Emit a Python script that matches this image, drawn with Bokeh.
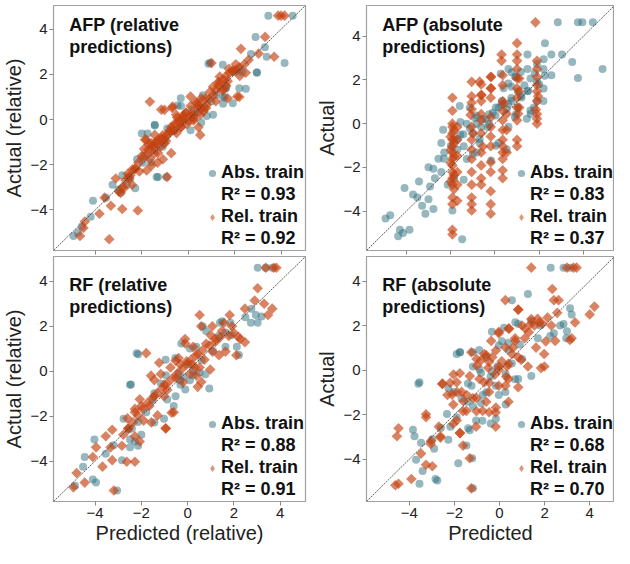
from bokeh.plotting import figure
from bokeh.layouts import gridplot
from bokeh.models import Range1d, FixedTicker, Label, Legend, LegendItem, Slope
from bokeh.embed import file_html
from bokeh.resources import INLINE

# ---------------- data ----------------
ticks = [-4, -2, 0, 2, 4]
series_names = ["Abs. train", "Rel. train"]

# AFP (relative predictions)
tl_abs_pred = [3.45, 4.5, 2.9, 3.38, 4.15, 2.96, 0.87, 2.2, 1.57, 1.92, 1.5, 0.8, 0.52, -0.46, -1.44, -1.75, -2.0, -1.02, 0.1, -2.2, -1.3, -2.84, -2.49, -3.26, -3.54, -4.1, -4.2, -4.58, -4.94, -4.75, -2.28, -2.63, 0.24, -0.32, 1.64, 2.48, 0.63, 2.2, 2.7, 1.2, 0.4, -0.6, -1.1, -1.9, -3.0, -0.2, 1.0, 2.0, -1.6, 0.7, 3.3, -0.9,
               0.94, 1.49, 2.95, 1.49, 1.07, 0.56, -1.44, -1.95, -1.44, -1.36, -0.94, -2.57, -2.9, -0.31, 0.15, 2.32, 1.61]
tl_abs_act = [4.6, 4.6, 3.66, 2.78, 2.5, 2.07, 2.47, 1.39, 0.98, 0.72, 0.7, 0.16, 0.51, 0.62, -0.23, -0.62, -0.62, -0.91, -0.48, -1.76, -2.54, -2.47, -2.61, -2.89, -3.46, -3.6, -4.31, -4.74, -5.16, -5.0, -3.04, -2.89, 0.09, 0.94, 1.43, 1.36, 1.08, 2.2, 2.9, 1.1, 0.3, -0.5, -1.2, -1.6, -3.1, -0.1, 0.8, 2.1, -1.9, 0.5, 3.2, -0.4,
              2.51, 2.43, 2.09, 1.02, 0.21, -0.13, -0.26, -1.91, -1.32, -2.55, -2.55, -2.55, -3.23, 0.6, 0.43, 2.09, 1.36]
tl_rel_pred = [3.87, 4.15, 4.0, 3.31, 2.27, 3.03, 3.7, 1.0, 2.6, 1.78, 2.06, 2.48, 1.29, 1.64, 2.2, 0.31, 0.8, -1.65, -1.16, -0.67, -0.21, -0.53, -0.32, -0.74, -1.16, -1.58, -1.72, -1.3, -2.0, -1.09, -1.58, -2.56, -3.12, -2.42, -2.77, -2.91, -3.6, -3.33, -2.84, -2.17, -3.82, -4.45, -4.51, -4.66, -3.4, -0.91, -1.79, -0.25, 0.24, 0.03, 0.66, 1.08, 1.5, -0.74, -0.39, 0.24, 0.57, 0.52, 1.36, 1.92, 2.22, 0.1, -0.9, -1.4, -1.9, -0.5, 0.9, 1.2, -1.2, -2.3, -1.45, 0.4, 1.7, -0.1, -1.8, -2.6,
               -1.02, -0.69, -0.48, -0.1, 0.1, 0.36, 0.56, 0.94, 1.07, 1.36, 1.61, 1.9, 2.2, 2.4, 1.49, 1.7, 2.11, 1.19, 0.77, 0.52, 0.23, -0.06, -0.31, -0.61, -0.9, -1.15, -1.36, -1.57, -1.74, -1.95, -2.15, -2.28, -2.49, -2.7, -2.82, -2.99, -1.44, -1.02, -0.73, -1.65, -1.32, -1.86, -0.52, 0.44, 0.52, 0.1,
               -1.3, -1.1, -0.8, -0.6, -0.35, -1.5, -1.7, -0.95, -0.2, 0.15, 0.45, 0.75, 1.3, 1.55, 1.75, 2.05, -2.1, -2.4]
tl_rel_act = [4.6, 4.6, 4.6, 3.66, 3.13, 2.92, 2.78, 2.5, 2.64, 2.07, 2.2, 2.07, 1.65, 1.5, 1.0, 0.79, 0.65, 0.79, 0.44, 0.58, 0.09, -0.2, -0.34, -0.48, -0.84, -1.05, -1.33, -1.48, -1.62, -1.76, -2.04, -2.61, -2.61, -2.89, -3.04, -3.25, -3.46, -3.82, -3.96, -4.03, -4.17, -4.52, -4.8, -5.16, -5.3, -2.54, -2.26, 0.0, 0.22, -0.06, 0.36, 1.08, 1.36, -0.34, -0.13, 0.03, 0.47, 0.75, 1.9, 2.18, 1.93, 0.11, -0.7, -1.0, -1.3, -0.6, 0.9, 1.3, -1.2, -2.2, -1.5, 0.5, 1.7, 0.3, -0.9, -2.4,
              0.43, 0.51, 0.09, 0.3, 0.6, 0.72, 0.94, 1.23, 1.45, 1.66, 1.91, 2.13, 2.3, 2.43, 1.28, 0.94, 1.02, 0.81, 0.51, 0.21, -0.04, -0.21, -0.34, -0.47, -0.64, -0.85, -1.06, -1.19, -1.49, -1.7, -1.91, -2.17, -2.47, -2.68, -2.98, -3.19, -0.68, -1.06, -1.49, -1.74, -1.91, -0.89, 0.21, -0.34, -0.68, 1.02,
              -0.9, -0.7, -0.5, -0.2, 0.0, -1.2, -1.1, -0.95, 0.2, 0.25, 0.6, 0.95, 1.5, 1.75, 2.25, 2.45, -2.3, -2.2]

# AFP (absolute predictions)
tr_abs_pred = [2.84, 3.75, 3.95, 4.42, 2.26, 2.55, 3.03, 3.49, 4.86, 3.75, 2.55, 2.19, 1.9, 1.61, 1.33, 1.04, 0.75, 0.39, 0.75, 0.17, 0.03, -0.26, -0.62, -0.98, -1.41, -1.7, -1.59, -1.56, -1.27, -0.9, -0.84, 0.75, 0.96, 1.61, 2.19, 1.44, 0.17, 0.53, -3.0, -2.78, -2.42, -2.71, -2.93, -2.13, -1.84, -1.41, -3.43, -4.08, -3.7, -3.5, -3.0, -3.29, -2.78, -3.14, -4.94, -4.73, -4.29, -4.15, -3.86, -4.37, -1.48, -1.92, -1.84, -1.27, -0.69, -0.33, 0.32, 0.53, 1.04, 1.76, 1.2, 0.6, -0.4, 1.5, 2.0, -2.3, -1.0, 0.9, -0.1, 1.8,
               2.2, 1.9, 1.47, 1.17, 0.91, 0.61, 1.47, 1.17, 0.74, 0.3, 0.04, -0.26, -0.56, -0.82, -1.13, -1.43, -1.69, -1.99, -2.29, -2.55, -1.13, -1.56, -0.69, 0.04, 0.61, 0.95, 1.6, 1.9, 2.2, 2.25, 0.61, 0.26, 1.47, -2.34, -2.42, -0.82, -0.17]
tr_abs_act = [4.63, 4.63, 4.63, 4.63, 3.68, 3.16, 3.16, 2.82, 2.5, 2.09, 2.21, 2.5, 1.91, 2.06, 1.76, 1.47, 1.69, 1.62, 1.03, 0.74, 0.37, 0.0, -0.15, -0.44, -1.03, -1.18, 0.81, -0.51, 0.0, 0.26, 0.37, 2.35, 2.13, 0.44, 1.03, 0.22, -0.88, -1.18, -1.99, -2.06, -2.21, -2.5, -2.87, -2.79, -2.5, -2.57, -2.65, -2.94, -3.24, -3.38, -3.46, -3.75, -3.9, -4.12, -4.34, -4.19, -4.85, -5.0, -4.85, -5.15, -5.29, -3.97, -0.74, -1.62, -0.88, -0.15, 1.03, 0.66, 0.74, 0.74, 1.2, 0.9, 0.2, 1.5, 1.8, -1.6, -1.4, 0.3, 0.5, 2.3,
              2.94, 2.72, 2.5, 2.36, 2.14, 1.83, 1.48, 1.26, 1.17, 0.87, 0.74, 0.43, 0.21, 0.0, -0.22, -0.48, -0.7, -1.01, -1.32, -1.6, 0.74, 0.07, -0.7, -1.01, -0.14, 0.43, 0.6, 1.04, 1.61, 2.19, 2.5, 2.28, 3.16, -0.28, -0.89, -1.32, -1.69]
tr_rel_pred = [-1.92, -1.92, -1.92, -1.92, -1.92, -1.92, -1.92, -1.92, -1.92, -1.92, -1.92, -1.92, -1.92, -1.92, -1.92, -1.92, -1.92,
               -1.7, -1.7, -1.7, -1.7, -1.7, -1.7,
               -1.05, -1.05, -1.05, -1.05, -1.05, -1.05, -1.05, -1.05, -1.05, -1.05, -1.05, -1.05, -1.05,
               -0.62, -0.62, -0.62, -0.62, -0.62, -0.62, -0.62, -0.62, -0.62, -0.62,
               -0.19, -0.19, -0.19, -0.19, -0.19, -0.19, -0.19, -0.19, -0.19, -0.19, -0.19, -0.19,
               0.35, 0.35, 0.35, 0.35, 0.35, 0.35, 0.35, 0.35, 0.35, 0.35, 0.35, 0.35,
               0.53, 0.53, 0.53,
               1.0, 1.0, 1.0, 1.0, 1.0, 1.0, 1.0, 1.0, 1.0, 1.0, 1.0,
               1.1, 1.1, 1.1,
               1.83, 1.9, 1.9, 1.9, 1.9, 1.9, 1.9, 1.9, 1.9, 1.9,
               0.3, 0.3,
               -1.85, -2.0, -1.85, -2.0, -1.85, -2.0, -1.85, -2.0, -1.85,
               -0.69, -0.17, -0.17, -0.61, -1.1, -1.0, -0.55, 0.4, 1.05, 1.95, 1.85]
tr_rel_act = [1.18, 0.59, 0.0, -0.15, -0.44, -0.74, -1.03, -1.32, -1.62, -1.91, -2.21, -2.5, -2.79, -3.38, -3.68, -4.85, -5.07,
              -0.15, -0.74, -1.47, -2.21, -2.79, -3.53,
              1.91, 1.25, 0.96, 0.66, -0.15, -0.74, -1.18, -1.62, -2.21, -2.79, -3.38, -3.68, -3.97,
              1.79, 1.32, 1.03, 0.44, 0.15, -0.44, -1.32, -1.91, -2.5, -2.79,
              2.13, 1.62, 1.18, 0.29, -0.15, -0.59, -1.03, -1.76, -2.21, -3.09, -3.68, -4.12,
              2.21, 1.76, 1.03, 0.59, 0.15, -0.29, -0.74, -1.03, -1.32, -1.62, -2.13, -2.5,
              0.44, -0.29, -1.32,
              3.68, 3.16, 2.87, 2.5, 2.06, 1.62, 1.18, 0.74, 0.15, -0.74, -1.03,
              2.06, 1.47, 0.74,
              4.63, 2.87, 2.5, 2.13, 1.76, 1.47, 1.03, 0.44, 0.22, 0.0,
              3.16, 2.87,
              -0.3, -0.6, -0.9, -1.2, -1.5, -1.8, -2.35, -2.65, -3.0,
              1.92, 2.14, 1.61, 1.3, 0.4, -0.45, -1.05, 0.9, 0.45, 1.25, 0.65]

# RF (relative predictions)
bl_abs_pred = [3.03, 3.38, 3.66, 2.76, 3.2, 3.03, 1.85, 1.5, 2.22, 2.13, 0.8, 0.38, -0.95, -0.53, -2.14, -2.45, -0.32, 0.1, 0.94, 0.52, -1.16, -1.44, -0.6, -1.02, -1.79, -2.14, -2.77, -2.56, -2.0, -2.14, -2.49, -2.84, -4.03, -3.54, -4.45, -4.52, -4.1, -3.96, -4.87, -3.05, -0.88, -0.18, 0.24, 1.36, 1.64, 1.64, 0.6, 1.1, -0.4, 2.5, 1.9, -1.5, 0.0, -3.2,
               -2.2, -2.49, 0.65, 1.4, 2.74, 2.95, -0.27, 0.1, 0.23, 0.77, -0.94, -0.31, -0.1, -0.52, -1.44, -2.41, -2.28, -2.49]
bl_abs_act = [4.6, 4.6, 4.6, 2.78, 2.43, 2.15, 2.15, 2.22, 0.72, 1.08, 1.79, 1.08, 0.51, 0.58, 0.75, -0.6, -0.41, -0.41, -0.77, -0.06, -0.55, -0.98, -1.55, -2.12, -1.83, -2.26, -2.12, -2.61, -2.83, -3.32, -3.04, -3.96, -3.04, -3.68, -3.82, -4.25, -4.82, -4.96, -5.1, -5.31, -1.26, -0.27, 0.01, 1.57, 1.72, 1.08, 0.5, 0.9, -0.1, 2.4, 1.6, -1.3, 0.3, -3.3,
              0.8, -0.61, 2.0, 2.15, 2.15, 2.5, 1.23, 1.01, -0.18, -0.14, -0.18, -0.61, -0.82, -1.12, -2.28, -2.55, -3.13, -3.39]
bl_rel_pred = [3.38, 3.73, 3.84, 3.03, 2.9, 2.48, 3.31, 3.66, 3.48, 0.52, 0.59, -0.11, 0.24, 0.8, 1.57, 1.92, 2.27, 2.48, 1.64, -1.79, -1.23, -0.74, -0.39, -0.04, 0.38, 0.59, -1.58, -1.16, -0.88, -1.44, -2.0, -1.65, -2.28, -1.3, -0.6, -0.95, -2.56, -2.28, -3.26, -3.54, -2.84, -3.33, -3.96, -4.1, -3.26, -3.68, -2.63, -2.28, -4.8, -4.45, -4.94, -3.19, 0.1, 0.31, -0.32, 0.73, 1.08, 0.2, -0.5, 1.2, 1.0, 2.0, -1.9, -0.2, 0.45, 1.4, -1.0, -2.6,
               1.82, 1.07, 1.49, 1.78, 1.19, 0.94, 0.65, 0.36, 0.15, -0.06, -0.27, -0.48, -0.69, -0.9, -1.11, -1.32, -1.53, -1.74, -1.95, -2.15, -2.36, -2.57, -2.78, -0.1, -0.52, 0.52, 0.98, 1.36, 2.11, 2.2, -1.44, -1.02, -0.69, 0.44, -2.07, -2.28, -1.57, -0.94, -2.07]
bl_rel_act = [4.6, 4.6, 4.6, 3.69, 3.14, 2.78, 3.0, 2.78, 2.5, 2.5, 2.0, 1.43, 1.08, 1.22, 2.14, 2.0, 1.43, 1.29, 0.87, 0.8, 0.37, 0.16, 0.58, 0.44, -0.2, -0.48, -0.2, -0.13, -0.84, -1.12, -1.55, -1.55, -1.83, -1.97, -1.83, -2.54, -2.54, -2.9, -2.61, -2.9, -3.32, -3.39, -3.39, -3.82, -3.96, -4.25, -4.03, -4.03, -4.53, -4.96, -5.17, -5.31, -0.13, 0.16, 0.3, 0.51, 0.87, 0.3, -0.3, 1.3, 1.6, 1.7, -2.2, -0.5, 0.75, 1.5, -0.6, -2.1,
              2.5, 2.0, 1.78, 1.57, 1.44, 1.14, 0.93, 0.71, 0.5, 0.29, 0.07, -0.14, -0.35, -0.57, -0.78, -0.99, -1.21, -1.42, -1.68, -1.98, -2.28, -2.55, -2.83, 1.23, 0.46, 0.16, 0.07, 0.71, 0.71, 1.53, -0.4, -1.12, -1.85, -0.7, -1.25, -1.68, -2.28, -2.55, -3.13]

# RF (absolute predictions)
br_abs_pred = [2.27, 2.84, 3.13, 0.55, 1.26, 3.13, 3.2, 2.84, 2.96, 2.41, 0.83, 1.4, -0.34, 0.11, -1.9, -1.75, -3.55, -1.18, -0.82, -0.6, -0.1, 0.55, -0.17, 0.26, 0.69, 1.41, -2.04, -1.68, -1.18, -0.82, -1.9, -2.18, -1.39, -1.04, -2.33, -0.39, -3.84, -3.77, -2.98, -2.9, -1.47, -1.21, -1.83, -3.7, -3.41, -2.84, -2.76, -3.55, -1.18, 0.9, 1.7, -0.75, 0.4, -0.4, 1.0, -1.4, 0.2, 1.8, -0.9, -2.6,
               0.7, 0.4, -0.03, -1.19, -1.76, -0.89, -0.33, 0.27, 0.83, -1.24, -0.59, -0.03, -2.27, -1.41, 0.27, -0.76, -0.16, -1.32, -2.27, -3.48, -3.6, 2.69, 2.25, 2.99]
br_abs_act = [4.6, 4.6, 4.6, 3.14, 3.42, 2.78, 2.5, 2.07, 1.43, 1.65, 2.07, 2.22, 1.72, 1.29, 0.72, 0.8, -0.55, 0.16, -0.13, 0.58, 0.16, 0.3, -0.7, -0.98, -0.41, -0.27, -0.98, -1.26, -1.62, -1.48, -2.12, -2.54, -2.61, -2.26, -1.97, -2.4, -2.68, -2.97, -3.11, -3.53, -3.39, -3.96, -4.18, -4.03, -4.53, -4.89, -4.96, -5.1, -5.31, 1.15, 1.43, -1.12, 0.9, -0.3, 0.5, -0.6, 1.9, 2.0, 0.9, -2.6,
              2.15, 1.23, 1.1, 0.8, 0.8, 0.03, -0.06, -0.18, -0.4, -0.7, -0.99, -1.12, -0.82, -1.42, -1.55, -2.28, -2.19, -2.7, -3.13, -3.26, -0.61, 2.0, 1.53, 1.74]
br_rel_pred = [1.41, 2.99, 3.28, 3.42, 2.34, 2.41, 2.62, 0.26, 0.83, 4.21, 4.0, 2.56, 2.13, 1.41, 1.77, 1.55, 3.35, 3.2, 0.43, -0.03, 0.69, 1.12, 2.05, 1.98, 1.62, 1.84, -1.25, -0.68, -0.82, -0.32, -0.03, 0.33, -2.04, -2.54, -1.9, -1.68, -0.68, -0.46, 0.26, 0.83, -1.18, -1.47, -0.75, -0.17, -1.9, -1.75, -1.04, -0.17, -3.26, -2.69, -4.48, -4.55, -2.62, -3.05, -3.48, -3.26, -2.98, -1.32, -3.91, -4.48, -4.62, -1.25, 0.55, 0.83, 0.1, -0.2, 0.6, -1.0, 1.3, -1.6, 0.3, 1.0, -2.1, -0.5, 2.3,
               0.83, 1.69, 1.39, 1.91, 1.14, 0.4, -0.03, -0.37, 0.7, 0.27, -0.16, -0.59, -1.02, -0.46, -0.03, 0.4, 0.96, 1.26, 1.99, 2.47, 3.12, -1.76, -1.32, -0.89, -0.46, -0.03, 0.4, -2.19, -2.53, -1.88, -1.45, -1.02, -0.59, -0.16, 0.4, -2.31, -2.05, -1.62, -1.02, -0.46, -2.05, -1.76, -2.62, -3.26, -3.04, -1.62]
br_rel_act = [4.6, 4.6, 4.6, 4.6, 3.64, 3.14, 3.14, 3.14, 2.71, 2.85, 2.5, 2.57, 2.36, 2.29, 2.14, 2.0, 2.14, 1.43, 1.86, 1.72, 1.43, 1.43, 1.29, 0.72, 1.01, 0.09, 0.8, 0.72, 0.44, 0.58, 0.01, 0.16, -0.2, -0.62, -0.55, -0.98, -0.55, -0.98, -0.7, -0.77, -1.26, -1.83, -1.83, -1.9, -2.26, -2.83, -2.54, -2.54, -2.12, -2.54, -2.61, -2.97, -3.04, -3.32, -3.75, -4.25, -4.32, -3.96, -4.89, -5.1, -5.17, -5.31, 0.72, 0.58, 0.4, -0.2, 1.0, 0.2, 1.7, -1.4, -0.3, 2.0, -1.1, 0.1, 2.0,
              2.72, 2.3, 2.08, 2.08, 1.87, 1.87, 1.65, 1.31, 1.31, 1.01, 0.88, 0.67, 0.5, 0.37, 0.16, 0.29, 0.46, 0.16, 0.16, 1.31, 1.35, -0.14, -0.27, -0.4, -0.57, -0.7, -0.4, -0.57, -0.61, -0.99, -1.12, -1.25, -1.42, -1.68, -1.42, -1.12, -1.55, -1.85, -1.85, -1.89, -2.41, -2.83, -2.97, -1.98, -3.18, -3.39]

r2_abs = ["0.93", "0.83", "0.88", "0.68"]
r2_rel = ["0.92", "0.37", "0.91", "0.70"]
titles = [("AFP (relative", "predictions)"), ("AFP (absolute", "predictions)"),
          ("RF (relative", "predictions)"), ("RF (absolute", "predictions)")]
x_labels = [None, None, "Predicted (relative)", "Predicted"]
y_labels = ["Actual (relative)", "Actual", "Actual (relative)", "Actual"]

# ---------------- style ----------------
ABS_COLOR = "#2f6f80"
REL_COLOR = "#c4400f"
FONT = "Liberation Sans"

FRAME_H = 245
LEFT_FW, RIGHT_FW = 256, 253


def make_panel(idx, apx, apy, rpx, rpy, xr, yr, bottom_row, left_col):
    fw = LEFT_FW if left_col else RIGHT_FW
    mbl = 49 if left_col else 48
    mbr = 8 if left_col else 0
    mbt = 5 if not bottom_row else 0
    mbb = 48 if bottom_row else 6
    p = figure(width=mbl + fw + mbr, height=mbt + FRAME_H + mbb,
               x_range=Range1d(*xr), y_range=Range1d(*yr),
               output_backend="svg", toolbar_location=None,
               min_border_left=mbl, min_border_right=mbr,
               min_border_top=mbt, min_border_bottom=mbb)
    p.grid.visible = False
    p.outline_line_color = "#a0a0a0"
    p.outline_line_width = 1.2
    p.background_fill_color = "white"
    p.border_fill_color = "white"

    for ax in (p.xaxis[0], p.yaxis[0]):
        ax.ticker = FixedTicker(ticks=ticks, minor_ticks=[])
        ax.axis_line_color = None
        ax.major_tick_line_color = "#888888"
        ax.major_tick_out = 4
        ax.major_tick_in = 0
        ax.minor_tick_line_color = None
        ax.major_label_text_font = FONT
        ax.major_label_text_font_size = "15px"
        ax.major_label_text_color = "#222222"
        ax.major_label_standoff = 2
        ax.axis_label_text_font = FONT
        ax.axis_label_text_font_size = "20px"
        ax.axis_label_text_font_style = "normal"
        ax.axis_label_text_color = "#222222"
        ax.axis_label_standoff = 2

    p.yaxis[0].axis_label = y_labels[idx]
    if bottom_row:
        p.xaxis[0].axis_label = x_labels[idx]
        p.xaxis[0].axis_label_standoff = 1
    else:
        p.xaxis[0].major_label_overrides = {t: "" for t in ticks}
        p.xaxis[0].major_label_text_font_size = "1px"
        p.xaxis[0].major_label_standoff = 0

    p.add_layout(Slope(gradient=1, y_intercept=0, line_color="#333333",
                       line_width=0.8, line_dash="2 1"))

    ra = p.scatter(apx, apy, marker="circle", size=8, fill_color=ABS_COLOR,
                   fill_alpha=0.5, line_color=None)
    p.scatter(rpx, rpy, marker="square", angle=45, angle_units="deg",
              size=7.5, fill_color=REL_COLOR, fill_alpha=0.65, line_color=None)
    # hidden twin of the diamond series, used only for its legend glyph
    # (legend glyphs are drawn without the marker rotation)
    rl = p.scatter(rpx, rpy, marker="diamond", size=11, fill_color=REL_COLOR,
                   fill_alpha=0.55, line_color=None, visible=False)
    d1 = p.scatter(apx, apy, marker="circle", size=1, fill_alpha=0, line_alpha=0)
    d2 = p.scatter(apx, apy, marker="circle", size=1, fill_alpha=0, line_alpha=0)

    legend = Legend(items=[
        LegendItem(label=series_names[0], renderers=[ra]),
        LegendItem(label="R\u00b2 = " + r2_abs[idx], renderers=[d1]),
        LegendItem(label=series_names[1], renderers=[rl]),
        LegendItem(label="R\u00b2 = " + r2_rel[idx], renderers=[d2]),
    ], location="bottom_right")
    legend.label_text_font = FONT
    legend.label_text_font_style = "bold"
    legend.label_text_font_size = "18px"
    legend.label_text_color = "#111111"
    legend.glyph_width = 18
    legend.glyph_height = 18
    legend.label_standoff = -3
    legend.label_height = 20
    legend.spacing = 1
    legend.padding = 0
    legend.margin = 1
    legend.border_line_color = None
    legend.background_fill_alpha = 0
    p.add_layout(legend)

    # two-line title in the top-left corner
    top_off = 9 if not bottom_row else 18
    tx = xr[0] + 16.0 / fw * (xr[1] - xr[0])
    for k, line in enumerate(titles[idx]):
        ty = yr[1] - (top_off + 22 * k) / FRAME_H * (yr[1] - yr[0])
        p.add_layout(Label(x=tx, y=ty, text=line, text_font=FONT,
                           text_font_style="bold", text_font_size="18px",
                           text_color="#111111", text_baseline="top",
                           text_align="left"))
    return p


p1 = make_panel(0, tl_abs_pred, tl_abs_act, tl_rel_pred, tl_rel_act,
                (-5.8, 5.05), (-5.8, 5.05), False, True)
p2 = make_panel(1, tr_abs_pred, tr_abs_act, tr_rel_pred, tr_rel_act,
                (-5.8, 5.4), (-5.8, 5.4), False, False)
p3 = make_panel(2, bl_abs_pred, bl_abs_act, bl_rel_pred, bl_rel_act,
                (-5.8, 5.1), (-5.8, 5.1), True, True)
p4 = make_panel(3, br_abs_pred, br_abs_act, br_rel_pred, br_rel_act,
                (-5.9, 5.1), (-5.9, 5.1), True, False)

grid = gridplot([[p1, p2], [p3, p4]], toolbar_location=None)

open("out.html", "w").write(file_html(grid, INLINE))
